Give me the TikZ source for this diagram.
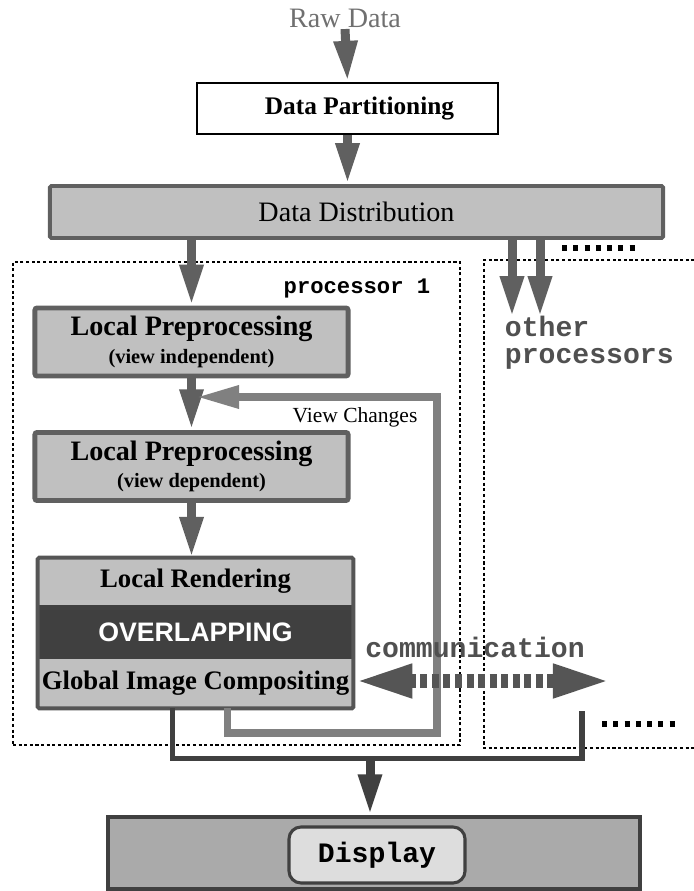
\documentclass[tikz,border=0pt]{standalone}
\usepackage{fontspec}
\setmainfont{Liberation Serif}
\setsansfont{Liberation Sans}
\setmonofont{Liberation Mono}
\usetikzlibrary{arrows.meta,positioning,calc}
\definecolor{boxgray}{RGB}{192,192,192}
\definecolor{edgegray}{RGB}{96,96,96}
\definecolor{flowgray}{RGB}{96,96,96}
\definecolor{viewgray}{RGB}{128,128,128}
\definecolor{darkband}{RGB}{64,64,64}
\definecolor{stackedge}{RGB}{85,85,85}
\definecolor{commgray}{RGB}{85,85,85}
\definecolor{monogray}{RGB}{80,80,80}
\definecolor{labelgray}{RGB}{112,112,112}
\definecolor{dispgray}{RGB}{170,170,170}
\definecolor{displight}{RGB}{221,221,221}

\begin{document}
\begin{tikzpicture}[x=0.025cm,y=-0.025cm,
  stage/.style={draw=edgegray,fill=boxgray,line width=3.5pt,rounded corners=1.5pt,
                minimum width=7.825cm,minimum height=1.7cm,align=center,inner sep=0pt,
                font=\bfseries},
  band/.style={fill=boxgray,minimum width=7.875cm,inner sep=0pt,
               font=\fontsize{19pt}{20pt}\selectfont\bfseries},
  flow/.style={draw=flowgray,line width=6.4pt,-{Triangle[length=29pt,width=15.6pt]}},
  viewline/.style={draw=viewgray,line width=5pt,-{Triangle[length=30pt,width=15.6pt]}},
  commline/.style={draw=commgray,line width=10pt,dash pattern=on 5pt off 3.2pt,
                   {Triangle[length=42pt,width=21.5pt]}-{Triangle[length=42pt,width=21.5pt]}},
  busline/.style={draw=darkband,line width=3.9pt},
  dotbox/.style={draw=black,line width=0.9pt,dash pattern=on 2.2pt off 1.8pt},
  etc/.style={draw=black,line width=3.6pt,dash pattern=on 3.6pt off 4.4pt},
  mono/.style={font=\fontsize{20pt}{19pt}\selectfont\ttfamily\bfseries}
]
  \useasboundingbox (0,0) rectangle (694,891);

  % processor regions
  \node[dotbox,minimum width=11.175cm,minimum height=12.075cm,inner sep=0pt] (proc1) at (236.5,503.5) {};
  \draw[dotbox] (700,260) -- (484,260) -- (484,748) -- (700,748);

  % input side
  \node[font=\fontsize{20pt}{20pt}\selectfont,text=labelgray,inner sep=1pt] (raw) at (345,18) {Raw Data};
  \node[draw=black,line width=1.9pt,minimum width=7.525cm,minimum height=1.275cm,
        font=\fontsize{18pt}{18pt}\selectfont\bfseries] (dp) at (347.5,108.5) {\hspace*{0.6cm}Data Partitioning};
  \node[draw=edgegray,fill=boxgray,line width=2.8pt,rounded corners=1pt,minimum width=15.325cm,
        minimum height=1.3cm,font=\fontsize{20pt}{20pt}\selectfont] (dd) at (356.5,212) {Data Distribution};

  \node[font=\fontsize{15.8pt}{16pt}\selectfont\ttfamily\bfseries] (p1lbl) at (357,288) {processor 1};
  \node[mono,text=monogray,align=left,anchor=west] (otherlbl) at (500,343) {other\\processors};

  % pipeline on processor 1
  \node[stage] (lpi) at (191.5,342) {\fontsize{20pt}{20pt}\selectfont Local Preprocessing\\[4pt]
        \fontsize{14.5pt}{16pt}\selectfont (view independent)};
  \node[stage] (lpd) at (191.5,466.5) {\fontsize{20pt}{20pt}\selectfont Local Preprocessing\\[4pt]
        \fontsize{14.5pt}{16pt}\selectfont (view dependent)};

  \node[band,minimum height=1.175cm] (lr) at (195.5,581.5) {Local Rendering};
  \node[band,fill=darkband,text=white,minimum height=1.35cm,
        font=\fontsize{19pt}{20pt}\selectfont\sffamily\bfseries] (ovl) at (195.5,632) {OVERLAPPING};
  \node[band,minimum height=1.225cm] (gic) at (195.5,683.5) {Global Image Compositing};
  \draw[stackedge,line width=2.8pt,rounded corners=1pt] (lr.north west) rectangle (gic.south east);

  % display
  \node[draw=darkband,fill=dispgray,line width=2.8pt,minimum width=13.3cm,minimum height=1.8cm] (disp) at (374,853) {};
  \node[draw=darkband,fill=displight,line width=2.2pt,rounded corners=0.3cm,minimum width=4.4cm,
        minimum height=1.4cm,mono,text=black] (dispin) at (377,855) {Display};

  % data flow
  \draw[flow] (raw.south) -- (dp.north);
  \draw[flow] (dp.south) -- (dp.south |- dd.north);
  \draw[flow] (lpi.north |- dd.south) -- (lpi.north);
  \draw[flow] (lpi.south) -- (lpd.north);
  \draw[flow] (lpd.south) -- (lpd.south |- lr.north);

  \coordinate (op1) at (512,317);
  \coordinate (op2) at (540,317);
  \draw[flow] (op1 |- dd.south) -- (op1);
  \draw[flow] (op2 |- dd.south) -- (op2);
  \draw[etc] (562,248) -- (640,248);

  % view changes feedback
  \coordinate (vcturn) at (437,733);
  \coordinate (vctip) at (197,397);
  \draw[viewline] ($(gic.south west)!0.6!(gic.south east)$) |- (vcturn) |- (vctip);
  \node (vclbl) at (355,417) {\fontsize{15.3pt}{16pt}\selectfont View Changes};

  % communication between processors
  \coordinate (commend) at (612,681);
  \draw[commline] (gic.east |- commend) -- (commend);
  \node[mono,text=monogray] (commlbl) at (475,647) {communication};

  % gather to display
  \coordinate (busend) at (582,711);
  \coordinate (busmid) at (370,758);
  \draw[busline] ($(gic.south west)!0.427!(gic.south east)$) -- ++(0,50) -| (busend);
  \draw[etc] (602,724) -- (680,724);
  \draw[flow,draw=darkband] (busmid) -- (busmid |- disp.north);
\end{tikzpicture}
\end{document}
